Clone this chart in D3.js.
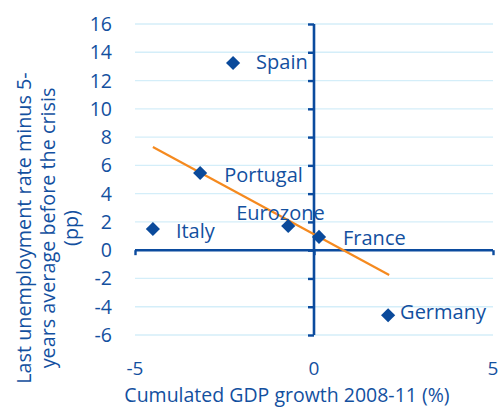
<!DOCTYPE html>
<html>
<head>
<meta charset="utf-8">
<script src="https://cdn.jsdelivr.net/npm/d3@7"></script>
<style>
  body { margin: 0; background: #fff; }
  text { font-family: "Open Sans", sans-serif; fill: #13509f; }
</style>
</head>
<body>
<div class="chart"></div>
<script>
// data
var countries = ["Spain", "Portugal", "Italy", "Eurozone", "France", "Germany"];
var gdpGrowth = [-2.26, -3.18, -4.5, -0.72, 0.14, 2.07];
var unempDiff = [13.24, 5.46, 1.5, 1.71, 0.94, -4.6];
// trend line end points
var trendX = [-4.5, 2.1];
var trendY = [7.3, -1.75];
var yTicks = [-6, -4, -2, 0, 2, 4, 6, 8, 10, 12, 14, 16];
var xTicks = [-5, 0, 5];

// label offsets (dx, dy) relative to the marker
var labelOff = {
  "Spain": [23, 6], "Portugal": [24, 9], "Italy": [23, 9],
  "Eurozone": [-52, -6], "France": [24, 8], "Germany": [12, 4]
};

var width = 500, height = 407;
var margin = {top: 24, right: 7, bottom: 72, left: 135};

var x = d3.scaleLinear().domain([-5, 5]).range([margin.left, width - margin.right]);
var y = d3.scaleLinear().domain([-6, 16]).range([height - margin.bottom, margin.top]);

var svg = d3.select(".chart").append("svg")
    .attr("width", width)
    .attr("height", height);

var axisCol = "#0b4b9e";

// grid lines
svg.append("g").selectAll("line")
  .data(yTicks.filter(function(d) { return d != 0; }))
  .enter().append("line")
    .attr("x1", x(-5)).attr("x2", x(5))
    .attr("y1", function(d) { return y(d); })
    .attr("y2", function(d) { return y(d); })
    .attr("stroke", "#d4eef9")
    .attr("stroke-width", 1.3);

// y tick labels on the left
svg.append("g").selectAll("text")
  .data(yTicks)
  .enter().append("text")
    .attr("x", 112)
    .attr("y", function(d) { return y(d); })
    .attr("dy", "0.36em")
    .attr("text-anchor", "end")
    .style("font-size", "19.5px")
    .text(function(d) { return d; });

// y axis through x = 0
var yAxis = d3.axisLeft(y).tickValues(yTicks).tickSize(6).tickFormat("");
var gy = svg.append("g")
    .attr("transform", "translate(" + x(0) + ",0)")
    .call(yAxis);

// x axis through y = 0
var xAxis = d3.axisBottom(x).tickValues(xTicks).tickSize(5).tickFormat("");
var gx = svg.append("g")
    .attr("transform", "translate(0," + y(0) + ")")
    .call(xAxis);

[gx, gy].forEach(function(g) {
  g.select(".domain").attr("stroke", axisCol).attr("stroke-width", 2.6);
  g.selectAll(".tick line").attr("stroke", axisCol).attr("stroke-width", 2.4);
});
gx.select(".domain").attr("d", "M" + x(-5) + ",0H" + x(5));
gy.select(".domain").attr("d", "M0," + y(-6) + "V" + y(16));

// x tick labels
svg.append("g").selectAll("text")
  .data(xTicks)
  .enter().append("text")
    .attr("x", function(d) { return x(d); })
    .attr("y", 375)
    .attr("text-anchor", "middle")
    .style("font-size", "19px")
    .text(function(d) { return d; });

// axis titles
svg.append("text")
  .attr("x", 287)
  .attr("y", 402)
  .attr("text-anchor", "middle")
  .style("font-size", "19.5px")
  .text("Cumulated GDP growth 2008-11 (%)");

var yTitle = ["Last unemployment rate minus 5-", "years average before the crisis", "(pp)"];
svg.append("g").selectAll("text")
  .data(yTitle)
  .enter().append("text")
    .attr("transform", function(d, i) {
      return "translate(" + (31 + i * 23.5) + ",228) rotate(-90)";
    })
    .attr("text-anchor", "middle")
    .style("font-size", "19.8px")
    .text(function(d) { return d; });

// trend line
var pts = trendX.map(function(d, i) { return [x(d), y(trendY[i])]; });
svg.append("path")
  .attr("d", d3.line()(pts))
  .attr("stroke", "#f58a1f")
  .attr("stroke-width", 2.2)
  .attr("fill", "none");

// markers (rotated squares = diamonds)
svg.append("g").selectAll("path")
  .data(countries)
  .enter().append("path")
    .attr("transform", function(d, i) {
      return "translate(" + x(gdpGrowth[i]) + "," + y(unempDiff[i]) + ") rotate(45)";
    })
    .attr("d", d3.symbol().type(d3.symbolSquare).size(100))
    .attr("fill", "#0a4a9b");

// labels
svg.append("g").selectAll("text")
  .data(countries)
  .enter().append("text")
    .attr("x", function(d, i) { return x(gdpGrowth[i]) + labelOff[d][0]; })
    .attr("y", function(d, i) { return y(unempDiff[i]) + labelOff[d][1]; })
    .style("font-size", "20px")
    .text(function(d) { return d; });
</script>
</body>
</html>
